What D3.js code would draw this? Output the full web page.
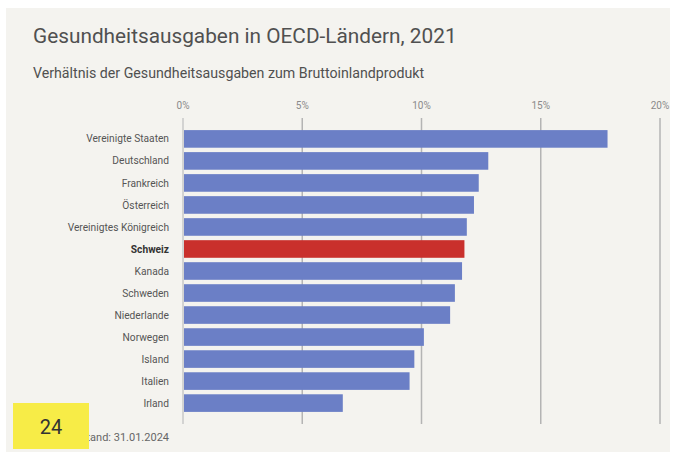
<!DOCTYPE html>
<html lang="de">
<head>
    <meta charset="UTF-8">
    <title>Gesundheitsausgaben</title>
    <script src="https://d3js.org/d3.v7.min.js"></script>
    <style>
        body { margin: 0; background: #fff; }
        svg { display: block; font-family: Roboto, "Noto Sans", sans-serif; }
    </style>
</head>
<body>
    <div id="chart"></div>
    <script>
        var countries = ['Vereinigte Staaten', 'Deutschland', 'Frankreich', 'Österreich',
            'Vereinigtes Königreich', 'Schweiz', 'Kanada', 'Schweden', 'Niederlande',
            'Norwegen', 'Island', 'Italien', 'Irland'];
        var shares = [17.8, 12.8, 12.4, 12.2, 11.9, 11.8, 11.7, 11.4, 11.2, 10.1, 9.7, 9.5, 6.7];
        var ticks = [0, 5, 10, 15, 20];
        var highlight = 'Schweiz';

        var width = 682, height = 452;
        var svg = d3.select('#chart').append('svg')
            .attr('width', width)
            .attr('height', height);

        // background panel
        svg.append('rect')
            .attr('x', 6).attr('y', 8)
            .attr('width', 664).attr('height', 444)
            .attr('fill', '#f4f3ef');

        svg.append('text')
            .attr('x', 33).attr('y', 43)
            .attr('font-size', 20.8)
            .attr('fill', '#505050')
            .text('Gesundheitsausgaben in OECD-Ländern, 2021');

        svg.append('text')
            .attr('x', 33).attr('y', 78)
            .attr('font-size', 14.2)
            .attr('fill', '#505050')
            .text('Verhältnis der Gesundheitsausgaben zum Bruttoinlandprodukt');

        var x = d3.scaleLinear().domain([0, 20]).range([183, 660]);
        var y = d3.scaleBand().domain(countries).range([129, 413]).paddingInner(0.2).paddingOuter(0.05);

        // grid lines
        svg.append('g').selectAll('line')
            .data(ticks)
            .enter().append('line')
            .attr('x1', d => x(d)).attr('x2', d => x(d))
            .attr('y1', 118).attr('y2', 424)
            .attr('stroke', d => d === 0 ? '#c8c8c8' : '#b4b4b4')
            .attr('stroke-width', 1.5);

        svg.append('g').selectAll('text')
            .data(ticks)
            .enter().append('text')
            .attr('x', d => x(d)).attr('y', 109)
            .attr('text-anchor', 'middle')
            .attr('font-size', 10)
            .attr('fill', '#8a8a8a')
            .text(d => d + '%');

        // bars
        svg.append('g').selectAll('rect')
            .data(countries)
            .enter().append('rect')
            .attr('x', x(0) + 1)
            .attr('y', d => y(d))
            .attr('width', (d, i) => x(shares[i]) - x(0) - 1)
            .attr('height', y.bandwidth())
            .attr('fill', d => d === highlight ? '#c9302c' : '#6b7fc6');

        // labels
        svg.append('g').selectAll('text')
            .data(countries)
            .enter().append('text')
            .attr('x', 169)
            .attr('y', d => y(d) + y.bandwidth() / 2)
            .attr('dy', '0.35em')
            .attr('text-anchor', 'end')
            .attr('font-size', 10.2)
            .attr('font-weight', d => d === highlight ? 'bold' : 'normal')
            .attr('fill', d => d === highlight ? '#333' : '#555')
            .text(d => d);

        svg.append('text')
            .attr('x', 169).attr('y', 441)
            .attr('text-anchor', 'end')
            .attr('font-size', 11)
            .attr('fill', '#666')
            .text('Stand: 31.01.2024');

        // page number box
        svg.append('rect')
            .attr('x', 13).attr('y', 403)
            .attr('width', 76).attr('height', 46)
            .attr('fill', '#f7ec47');
        svg.append('text')
            .attr('x', 51).attr('y', 434)
            .attr('text-anchor', 'middle')
            .attr('font-size', 20)
            .attr('fill', '#333')
            .text('24');
    </script>
</body>
</html>
